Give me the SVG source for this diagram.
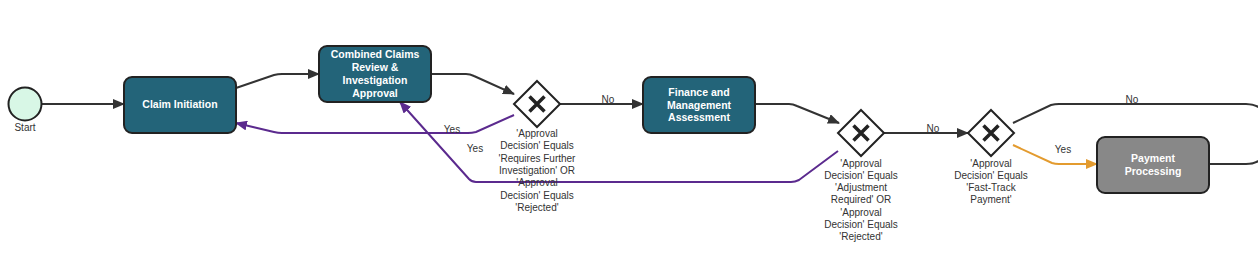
<svg xmlns="http://www.w3.org/2000/svg" width="1258" height="255" viewBox="0 0 1258 255">
<style>
.task{fill:#236479;stroke:#222;stroke-width:2}
.pay{fill:#888;stroke:#222;stroke-width:2}
.tt{font-family:"Liberation Sans",Arial,sans-serif;font-size:10.5px;font-weight:bold;fill:#fff;text-anchor:middle}
.gw{fill:#fff;stroke:#222;stroke-width:2}
.gx{stroke:#222;stroke-width:3.5;stroke-linecap:butt}
.lbl{font-family:"Liberation Sans",Arial,sans-serif;font-size:10px;fill:#333;text-anchor:middle}
.e{fill:none;stroke:#333;stroke-width:2}
.ep{fill:none;stroke:#5b2a8e;stroke-width:2}
.eo{fill:none;stroke:#e39b2f;stroke-width:2}
</style>
<defs>
<marker id="ab" markerUnits="userSpaceOnUse" markerWidth="12" markerHeight="10" refX="11" refY="5" orient="auto"><path d="M0,0 L12,5 L0,10 z" fill="#333"/></marker>
<marker id="ap" markerUnits="userSpaceOnUse" markerWidth="12" markerHeight="10" refX="11" refY="5" orient="auto"><path d="M0,0 L12,5 L0,10 z" fill="#5b2a8e"/></marker>
<marker id="ao" markerUnits="userSpaceOnUse" markerWidth="12" markerHeight="10" refX="11" refY="5" orient="auto"><path d="M0,0 L12,5 L0,10 z" fill="#e39b2f"/></marker>
</defs>
<g id="connectors">
<path class="e" d="M42,104 L124,104" marker-end="url(#ab)"/>
<path class="e" d="M236,88 L274,75 Q278,74 282,74 L319,74" marker-end="url(#ab)"/>
<path class="e" d="M431,74 L466,74 Q470,74 474,76 L514,94" marker-end="url(#ab)"/>
<path class="e" d="M560,104 L643,104" marker-end="url(#ab)"/>
<text class="lbl" x="608" y="103">No</text>
<path class="e" d="M755,104 L789,104 Q793,104 797,106 L839,123" marker-end="url(#ab)"/>
<path class="e" d="M884,133 L968,133" marker-end="url(#ab)"/>
<text class="lbl" x="933" y="132">No</text>
<path class="e" d="M1013,123 L1051,105 Q1055,104 1059,104 L1246,104 Q1258,104 1264,112"/>
<text class="lbl" x="1132" y="103">No</text>
<path class="e" d="M1209,164 L1246,164 Q1258,164 1264,156"/>
<path class="eo" d="M1013,145 L1052,163 Q1055,164 1059,164 L1097,164" marker-end="url(#ao)"/>
<text class="lbl" x="1063" y="153">Yes</text>
<path class="ep" d="M514,115 L476,132 Q472,133 468,133 L282,133 Q278,133 274,132 L236,123" marker-end="url(#ap)"/>
<text class="lbl" x="452" y="133">Yes</text>
<path class="ep" d="M838,151 L799,180 Q795,182 791,182 L476,182 Q472,182 469,179 L400,102" marker-end="url(#ap)"/>
<text class="lbl" x="475" y="152">Yes</text>
</g>
<g id="start">
<circle cx="25" cy="104" r="16.5" fill="#d8f7e6" stroke="#222" stroke-width="2"/>
<text class="lbl" x="25" y="131">Start</text>
</g>
<g id="claim-initiation">
<rect class="task" x="124" y="77" width="112" height="56" rx="8"/>
<text class="tt" x="180" y="108">Claim Initiation</text>
</g>
<g id="combined-review">
<rect class="task" x="319" y="46" width="112" height="56" rx="8"/>
<text class="tt" x="375" y="58">Combined Claims</text>
<text class="tt" x="375" y="71">Review &amp;</text>
<text class="tt" x="375" y="84">Investigation</text>
<text class="tt" x="375" y="97">Approval</text>
</g>
<g id="gateway1">
<polygon class="gw" points="537,81 560,104 537,127 514,104"/>
<path class="gx" d="M529.5,96.5 L544.5,111.5 M544.5,96.5 L529.5,111.5"/>
<text class="lbl" x="537" y="137">'Approval</text>
<text class="lbl" x="537" y="149.3">Decision' Equals</text>
<text class="lbl" x="537" y="161.6">'Requires Further</text>
<text class="lbl" x="537" y="173.9">Investigation' OR</text>
<text class="lbl" x="537" y="186.2">'Approval</text>
<text class="lbl" x="537" y="198.5">Decision' Equals</text>
<text class="lbl" x="537" y="210.8">'Rejected'</text>
</g>
<g id="finance-assessment">
<rect class="task" x="643" y="77" width="112" height="56" rx="8"/>
<text class="tt" x="699" y="96">Finance and</text>
<text class="tt" x="699" y="108.5">Management</text>
<text class="tt" x="699" y="121">Assessment</text>
</g>
<g id="gateway2">
<polygon class="gw" points="861,110 884,133 861,156 838,133"/>
<path class="gx" d="M853.5,125.5 L868.5,140.5 M868.5,125.5 L853.5,140.5"/>
<text class="lbl" x="861" y="166.5">'Approval</text>
<text class="lbl" x="861" y="178.8">Decision' Equals</text>
<text class="lbl" x="861" y="191.1">'Adjustment</text>
<text class="lbl" x="861" y="203.4">Required' OR</text>
<text class="lbl" x="861" y="215.7">'Approval</text>
<text class="lbl" x="861" y="228">Decision' Equals</text>
<text class="lbl" x="861" y="240.3">'Rejected'</text>
</g>
<g id="gateway3">
<polygon class="gw" points="991,110 1014,133 991,156 968,133"/>
<path class="gx" d="M983.5,125.5 L998.5,140.5 M998.5,125.5 L983.5,140.5"/>
<text class="lbl" x="991" y="166.5">'Approval</text>
<text class="lbl" x="991" y="178.8">Decision' Equals</text>
<text class="lbl" x="991" y="191.1">'Fast-Track</text>
<text class="lbl" x="991" y="203.4">Payment'</text>
</g>
<g id="payment-processing">
<rect class="pay" x="1097" y="137" width="112" height="56" rx="8"/>
<text class="tt" x="1153" y="162">Payment</text>
<text class="tt" x="1153" y="175">Processing</text>
</g>
</svg>
